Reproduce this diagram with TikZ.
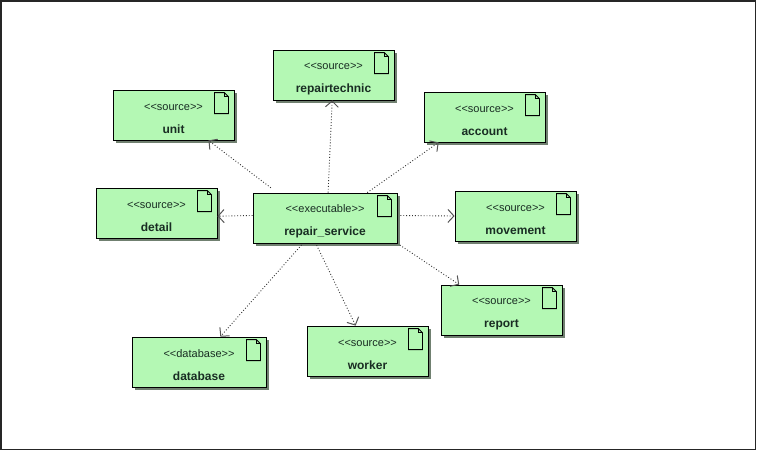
\documentclass[tikz,border=0pt]{standalone}
\usepackage{fontspec}
\setmainfont{Liberation Sans}
\usetikzlibrary{arrows.meta,shadows}
\definecolor{myGreen}{RGB}{180,248,180}
\definecolor{myShadow}{RGB}{112,128,112}
\definecolor{myHead}{RGB}{85,85,85}
\definecolor{myText}{RGB}{25,45,35}
\newcommand{\stereo}[1]{\rule{0pt}{15pt}{<}{<}#1{>}{>}}
\newcommand{\artname}[1]{\fontsize{12}{23}\selectfont\bfseries #1}

\begin{document}
\begin{tikzpicture}[%
    x=1pt,y=-1pt,
    every node/.style={
        text=myText,
    },
    artifact/.style={
        draw=black,
        line width=0.8pt,
        fill=myGreen,
        minimum width=121pt,
        minimum height=50pt,
        inner sep=0pt,
        align=center,
        font=\fontsize{11}{23}\selectfont,
        drop shadow={shadow xshift=2.5pt,shadow yshift=-2.5pt,fill=myShadow,opacity=1},
    },
    depends/.style={
        dotted,
        line width=0.9pt,
        draw=black!80,
        -{Straight Barb[length=6pt,width=13pt,line width=1pt,color=myHead]},
    },
    docicon/.style={
        draw=black,
        line width=0.8pt,
        fill=myGreen,
        line join=miter,
    },
]
\useasboundingbox (0,0) rectangle (757,451);

% outer frame
\draw[line width=1.6pt,black!85] (1,1) rectangle (755.5,449.5);

% central node
\node[artifact,minimum width=144pt] (service) at (325,218) {\stereo{executable}\\\artname{repair\_service}};

% source nodes
\node[artifact] (repairtechnic) at (333.5,75) {\stereo{source}\\\artname{repairtechnic}};
\node[artifact] (unit) at (173.5,115) {\stereo{source}\\\artname{unit}};
\node[artifact] (account) at (484.5,117) {\stereo{source}\\\artname{account}};
\node[artifact] (detail) at (156.5,213) {\stereo{source}\\\artname{detail}};
\node[artifact] (movement) at (515.5,216) {\stereo{source}\\\artname{movement}};
\node[artifact] (report) at (501.5,310) {\stereo{source}\\\artname{report}};
\node[artifact] (worker) at (367.5,351) {\stereo{source}\\\artname{worker}};
\node[artifact,minimum width=134pt] (database) at (199,362) {\stereo{database}\\\artname{database}};

% document icons in the corners
\foreach \n in {service,repairtechnic,unit,account,detail,movement,report,worker,database}{
    \draw[docicon] ([xshift=-20pt,yshift=-3pt]\n.north east) -- ++(10,0) -- ++(4,4) -- ++(0,17) -- ++(-14,0) -- cycle;
    \draw[docicon,fill=none] ([xshift=-10pt,yshift=-3pt]\n.north east) -- ++(0,4) -- ++(4,0);
}

% dependencies
\draw[depends,shorten <=8pt] (service.152) -- (unit.324);
\draw[depends] (service.83) -- (repairtechnic.267);
\draw[depends] (service.31) -- (account.209);
\draw[depends] (service.178) -- (detail.357);
\draw[depends,shorten <=3pt] (service.2) -- (movement.west);
\draw[depends,shorten <=3pt] (service.south east) -- (report.149);
\draw[depends,shorten <=2pt] (service.250) -- (worker.115);
\draw[depends,shorten <=2pt] (service.229) -- (database.50);
\end{tikzpicture}
\end{document}
